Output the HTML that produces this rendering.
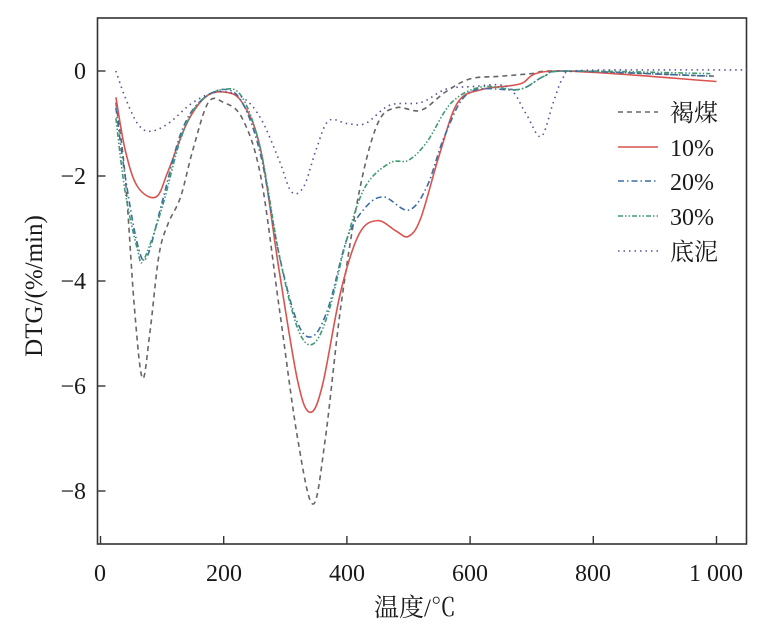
<!DOCTYPE html>
<html><head><meta charset="utf-8"><style>
body{margin:0;background:#fff}
svg text{font-family:"Liberation Serif","Noto Serif CJK SC","Noto Sans CJK SC",serif;fill:#1a1a1a}
</style></head><body>
<svg id="s" width="769" height="632" xmlns="http://www.w3.org/2000/svg">
<rect x="97.5" y="18" width="649" height="526" fill="none" stroke="#333" stroke-width="1.6"/>
<g id="ticks" stroke="#333" stroke-width="1.4"></g>
<g id="curves" fill="none" stroke-width="1.6" stroke-linejoin="round"></g>
<g font-size="24">
<text x="100" y="581" text-anchor="middle">0</text>
<text x="224" y="581" text-anchor="middle">200</text>
<text x="347" y="581" text-anchor="middle">400</text>
<text x="470" y="581" text-anchor="middle">600</text>
<text x="593" y="581" text-anchor="middle">800</text>
<text x="716" y="581" text-anchor="middle">1 000</text>
<text x="86" y="79" text-anchor="end">0</text>
<text x="86" y="184" text-anchor="end">−2</text>
<text x="86" y="289" text-anchor="end">−4</text>
<text x="86" y="394" text-anchor="end">−6</text>
<text x="86" y="499" text-anchor="end">−8</text>
<text x="415" y="616" text-anchor="middle" font-size="25">温度/℃</text>
<text transform="translate(42,286) rotate(-90)" text-anchor="middle" font-size="25">DTG/(%/min)</text>
<text x="670" y="121">褐煤</text>
<text x="670" y="156">10%</text>
<text x="670" y="190">20%</text>
<text x="670" y="225">30%</text>
<text x="670" y="260">底泥</text>
</g>
<g stroke-width="1.6">
<line x1="618" y1="112" x2="658" y2="112" stroke="#666" stroke-dasharray="5,4"/>
<line x1="618" y1="147" x2="658" y2="147" stroke="#d9534f"/>
<line x1="618" y1="181" x2="658" y2="181" stroke="#3a6ea5" stroke-dasharray="6,3,1.5,3"/>
<line x1="618" y1="216" x2="658" y2="216" stroke="#3f9a70" stroke-dasharray="5,2,1.5,2,1.5,2"/>
<line x1="618" y1="251" x2="658" y2="251" stroke="#5a4f9a" stroke-dasharray="1.5,4"/>
</g>
</svg>
<script>
const X=t=>100.5+t*0.616,Y=d=>71-d*52.5;
const tk=document.getElementById('ticks');let h='';
[0,200,400,600,800,1000].forEach(t=>{h+=`<line x1="${X(t)}" y1="544" x2="${X(t)}" y2="536"/>`});
[0,-2,-4,-6,-8].forEach(d=>{h+=`<line x1="97.5" y1="${Y(d)}" x2="105.5" y2="${Y(d)}"/>`});
tk.innerHTML=h;
const S=[
["#666","5,4",[[25,-0.6],[40,-2],[55,-4.5],[68,-5.85],[80,-5],[95,-3.5],[110,-2.9],[130,-2.4],[150,-1.5],[175,-0.6],[200,-0.6],[230,-0.9],[260,-2],[290,-4.5],[320,-7],[345,-8.25],[365,-7],[390,-4.5],[420,-2.3],[450,-1],[480,-0.7],[520,-0.75],[560,-0.4],[600,-0.15],[650,-0.1],[700,-0.05],[750,0],[1000,-0.1]]],
["#d9534f","",[[25,-0.5],[40,-1.5],[60,-2.2],[90,-2.4],[110,-1.9],[140,-1.0],[170,-0.5],[200,-0.4],[230,-0.6],[260,-1.5],[290,-3.8],[320,-5.9],[340,-6.5],[360,-6.0],[390,-4.2],[420,-3.1],[450,-2.85],[480,-3.05],[500,-3.15],[520,-2.8],[550,-1.6],[580,-0.6],[620,-0.35],[680,-0.25],[740,0],[1000,-0.2]]],
["#3a6ea5","6,3,1.5,3",[[25,-0.7],[40,-2],[60,-3.3],[75,-3.55],[100,-2.5],[130,-1.2],[160,-0.6],[200,-0.35],[230,-0.6],[260,-1.6],[290,-3.5],[320,-4.8],[345,-5.05],[370,-4.5],[400,-3.2],[430,-2.6],[460,-2.4],[500,-2.65],[530,-2.2],[560,-1.2],[600,-0.4],[680,-0.35],[720,-0.1],[760,0],[990,-0.1]]],
["#3f9a70","5,2,1.5,2,1.5,2",[[25,-0.9],[40,-2.3],[60,-3.4],[70,-3.6],[100,-2.6],[130,-1.3],[160,-0.6],[200,-0.35],[230,-0.5],[260,-1.5],[290,-3.5],[320,-4.9],[345,-5.2],[370,-4.6],[400,-3.2],[430,-2.2],[470,-1.75],[500,-1.7],[530,-1.35],[570,-0.6],[620,-0.3],[680,-0.35],[720,-0.1],[760,0],[990,-0.05]]],
["#5a4f9a","1.5,4",[[25,0],[40,-0.5],[60,-1.0],[80,-1.15],[110,-1.0],[150,-0.6],[190,-0.4],[230,-0.5],[260,-0.9],[290,-1.7],[310,-2.3],[330,-2.2],[350,-1.5],[370,-0.95],[400,-1],[430,-1],[470,-0.65],[520,-0.6],[560,-0.35],[600,-0.3],[660,-0.3],[690,-0.8],[715,-1.25],[735,-0.6],[750,-0.15],[770,0],[900,0.02],[1050,0.02]]]
];
let c='';
S.forEach(([col,da,p])=>{
 const q=p.map(([t,d])=>[X(t),Y(d)]);
 let d=`M${q[0][0]},${q[0][1]}`;
 for(let i=0;i<q.length-1;i++){
  const p0=q[i-1]||q[i],p1=q[i],p2=q[i+1],p3=q[i+2]||p2;
  d+=`C${p1[0]+(p2[0]-p0[0])/6},${p1[1]+(p2[1]-p0[1])/6} ${p2[0]-(p3[0]-p1[0])/6},${p2[1]-(p3[1]-p1[1])/6} ${p2[0]},${p2[1]}`;
 }
 c+=`<path d="${d}" stroke="${col}" ${da?`stroke-dasharray="${da}"`:''}/>`;
});
document.getElementById('curves').innerHTML=c;
</script>
</body></html>
